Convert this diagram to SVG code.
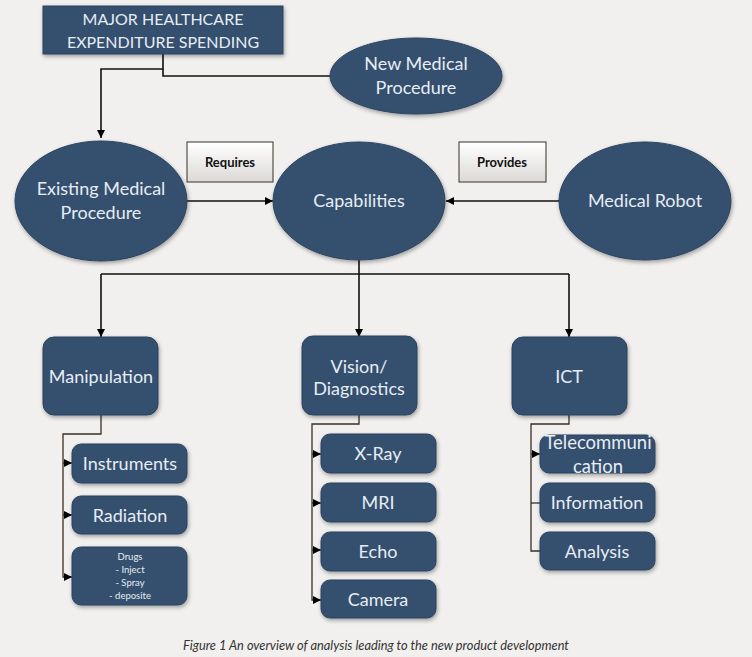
<svg xmlns="http://www.w3.org/2000/svg" width="752" height="657" viewBox="0 0 752 657">
<defs>
<marker id="ah" viewBox="0 0 10 10" refX="10" refY="5" markerWidth="8" markerHeight="8" markerUnits="userSpaceOnUse" orient="auto">
<path d="M0,0 L10,5 L0,10 z" fill="#000"/>
</marker>
<linearGradient id="lbl" x1="0" y1="0" x2="0" y2="1">
<stop offset="0" stop-color="#ffffff"/>
<stop offset="1" stop-color="#dcd9d6"/>
</linearGradient>
<filter id="sh" x="-10%" y="-10%" width="125%" height="130%">
<feGaussianBlur in="SourceAlpha" stdDeviation="2"/>
<feOffset dx="1" dy="2" result="b"/>
<feComponentTransfer><feFuncA type="linear" slope="0.35"/></feComponentTransfer>
<feMerge><feMergeNode/><feMergeNode in="SourceGraphic"/></feMerge>
</filter>
</defs>
<style>
.n{fill:#34506e;stroke:#2b4460;stroke-width:1;filter:url(#sh)}
.t{fill:#e6edf4;font-family:Lato,"Open Sans",sans-serif;text-anchor:middle;font-size:18px}
.c{fill:none;stroke:#111;stroke-width:1.6}
.cb{fill:none;stroke:#3a2e26;stroke-width:1.3}
.lb{fill:url(#lbl);stroke:#3a2e26;stroke-width:1}
.lt{fill:#111;font-family:Lato,"Open Sans",sans-serif;font-size:13px;font-weight:bold;text-anchor:middle}
.s{font-size:9.5px}
</style>
<rect width="752" height="657" fill="#f1f0ee"/>

<g id="connectors">
<path class="c" d="M163,54 V69 H101 V138" marker-end="url(#ah)"/>
<path class="c" d="M163,69 V76 H331"/>
<path class="c" d="M187,201 H273" marker-end="url(#ah)"/>
<path class="c" d="M559,201 H446" marker-end="url(#ah)"/>
<path class="c" d="M359,259 V337" marker-end="url(#ah)"/>
<path class="c" d="M101,274 H569"/>
<path class="c" d="M101,274 V337" marker-end="url(#ah)"/>
<path class="c" d="M569,274 V337" marker-end="url(#ah)"/>
<path class="cb" d="M101,415 V434 H63 V577 H72" marker-end="url(#ah)"/>
<path class="cb" d="M63,463 H72" marker-end="url(#ah)"/>
<path class="cb" d="M63,515 H72" marker-end="url(#ah)"/>
<path class="cb" d="M359,415 V424 H312 V600 H321" marker-end="url(#ah)"/>
<path class="cb" d="M312,454 H321" marker-end="url(#ah)"/>
<path class="cb" d="M312,503 H321" marker-end="url(#ah)"/>
<path class="cb" d="M312,550 H321" marker-end="url(#ah)"/>
<path class="cb" d="M569,415 V424 H531 V551 H540"/>
<path class="cb" d="M531,454 H540" marker-end="url(#ah)"/>
<path class="cb" d="M531,503 H540"/>
</g>

<g id="major">
<rect x="43" y="6" width="240" height="48" fill="#34506e" stroke="#2b4460" filter="url(#sh)"/>
<text class="t" x="163" y="25" style="font-size:16px">MAJOR HEALTHCARE</text>
<text class="t" x="163" y="48" style="font-size:16px">EXPENDITURE SPENDING</text>
</g>
<g id="new-medical">
<ellipse class="n" cx="416" cy="76" rx="86" ry="38"/>
<text class="t" x="416" y="70">New Medical</text>
<text class="t" x="416" y="94">Procedure</text>
</g>
<g id="existing">
<ellipse class="n" cx="101" cy="201" rx="86" ry="60"/>
<text class="t" x="101" y="195">Existing Medical</text>
<text class="t" x="101" y="219">Procedure</text>
</g>
<g id="requires">
<rect class="lb" x="187" y="142" width="86" height="40"/>
<text class="lt" x="230" y="167">Requires</text>
</g>
<g id="capabilities">
<ellipse class="n" cx="359" cy="201" rx="86" ry="59"/>
<text class="t" x="359" y="207">Capabilities</text>
</g>
<g id="provides">
<rect class="lb" x="459" y="142" width="87" height="40"/>
<text class="lt" x="502" y="167">Provides</text>
</g>
<g id="robot">
<ellipse class="n" cx="645" cy="201" rx="86" ry="59"/>
<text class="t" x="645" y="207">Medical Robot</text>
</g>

<g id="manipulation">
<rect class="n" x="43" y="337" width="115" height="78" rx="11"/>
<text class="t" x="101" y="383">Manipulation</text>
</g>
<g id="instruments">
<rect class="n" x="72" y="444" width="115" height="39" rx="9"/>
<text class="t" x="130" y="470">Instruments</text>
</g>
<g id="radiation">
<rect class="n" x="72" y="496" width="115" height="38" rx="9"/>
<text class="t" x="130" y="522">Radiation</text>
</g>
<g id="drugs">
<rect class="n" x="72" y="547" width="115" height="58" rx="9"/>
<text class="t s" x="130" y="560">Drugs</text>
<text class="t s" x="130" y="573">- Inject</text>
<text class="t s" x="130" y="586">- Spray</text>
<text class="t s" x="130" y="599">- deposite</text>
</g>

<g id="vision">
<rect class="n" x="302" y="336" width="115" height="79" rx="11"/>
<text class="t" x="359" y="373">Vision/</text>
<text class="t" x="359" y="395">Diagnostics</text>
</g>
<g id="xray">
<rect class="n" x="321" y="434" width="115" height="39" rx="9"/>
<text class="t" x="378" y="460">X-Ray</text>
</g>
<g id="mri">
<rect class="n" x="321" y="483" width="115" height="39" rx="9"/>
<text class="t" x="378" y="509">MRI</text>
</g>
<g id="echo">
<rect class="n" x="321" y="532" width="115" height="39" rx="9"/>
<text class="t" x="378" y="558">Echo</text>
</g>
<g id="camera">
<rect class="n" x="321" y="580" width="115" height="38" rx="9"/>
<text class="t" x="378" y="606">Camera</text>
</g>

<g id="ict">
<rect class="n" x="512" y="337" width="115" height="78" rx="11"/>
<text class="t" x="569" y="383">ICT</text>
</g>
<g id="telecom">
<rect class="n" x="540" y="435" width="115" height="38" rx="9"/>
<text class="t" x="598" y="449" style="font-size:18.5px">Telecommuni</text>
<text class="t" x="598" y="473" style="font-size:18.5px">cation</text>
</g>
<g id="information">
<rect class="n" x="540" y="483" width="115" height="39" rx="9"/>
<text class="t" x="597" y="509">Information</text>
</g>
<g id="analysis">
<rect class="n" x="540" y="532" width="115" height="38" rx="9"/>
<text class="t" x="597" y="558">Analysis</text>
</g>

<text x="376" y="650" font-family="Lato,'Open Sans',sans-serif" font-size="12.8" font-style="italic" fill="#333" text-anchor="middle">Figure 1 An overview of analysis leading to the new product development</text>
</svg>
